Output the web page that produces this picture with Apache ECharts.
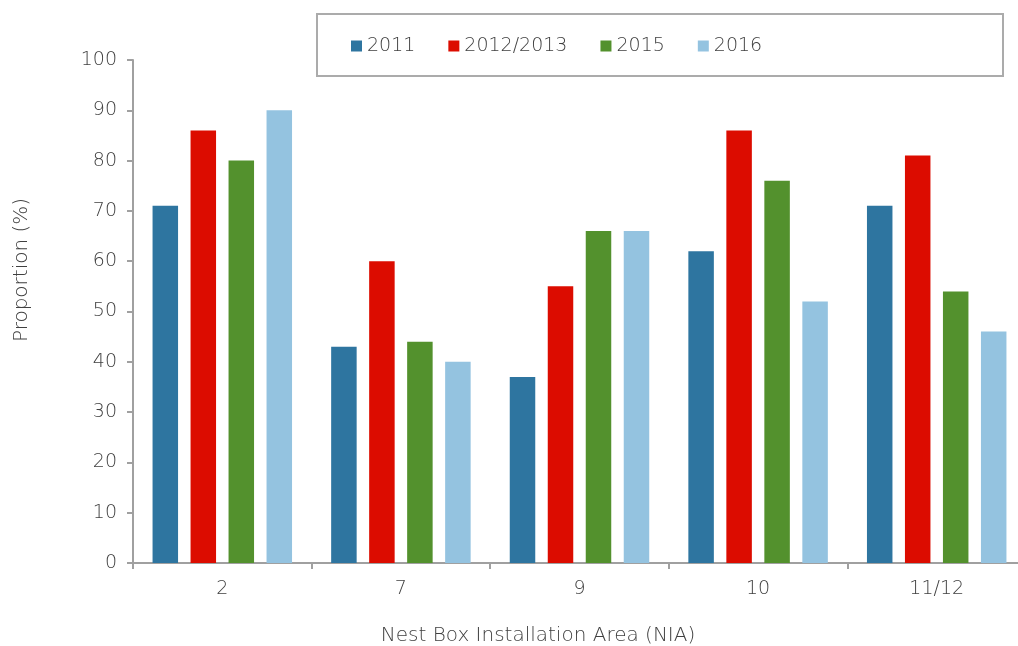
<!DOCTYPE html>
<html>
<head>
<meta charset="utf-8">
<script src="https://cdn.jsdelivr.net/npm/echarts@6/dist/echarts.min.js"></script>
<style>html,body{margin:0;padding:0;background:#fff;overflow:hidden;width:1018px;height:646px;}#c{width:1030px;height:646px;}</style>
</head>
<body>
<div id="c"></div>
<script>
var categories = ['2', '7', '9', '10', '11/12'];
var seriesNames = ['2011', '2012/2013', '2015', '2016'];
var s2011 = [71, 43, 37, 62, 71];
var s2012 = [86, 60, 55, 86, 81];
var s2015 = [80, 44, 66, 76, 54];
var s2016 = [90, 40, 66, 52, 46];
var colors = ['#2E75A0', '#DC0C00', '#53912D', '#94C3E0'];
var values = [s2011, s2012, s2015, s2016];

var FONT = 'DejaVu Sans';
var W = 200;
var TXT = '#404040';
var chart = echarts.init(document.getElementById('c'), null, {renderer: 'canvas'});
chart.setOption({
  animation: false,
  backgroundColor: '#fff',
  textStyle: {fontFamily: FONT, fontWeight: W},
  grid: {left: 133, top: 60, right: 4, bottom: 83, containLabel: false},
  graphic: [
    {type: 'rect', shape: {x: 317, y: 14, width: 686, height: 62}, style: {fill: 'none', stroke: '#ababab', lineWidth: 2}, z: 0},
    {type: 'text', x: 538, y: 636, style: {text: 'Nest Box Installation Area (NIA)', fontSize: 20, fontFamily: FONT, fontWeight: W, fill: TXT, align: 'center', verticalAlign: 'middle'}},
    {type: 'text', x: 22, y: 270, rotation: Math.PI / 2, style: {text: 'Proportion (%)', fontSize: 20, fontFamily: FONT, fontWeight: W, fill: TXT, align: 'center', verticalAlign: 'middle'}}
  ],
  legend: {
    left: 346, top: 30, itemWidth: 11, itemHeight: 11, itemGap: 33,
    icon: 'rect',
    textStyle: {fontSize: 19, color: TXT, fontFamily: FONT, fontWeight: W, lineHeight: 22},
    data: seriesNames
  },
  xAxis: {
    type: 'category', data: categories,
    axisLine: {lineStyle: {color: '#a0a0a0', width: 2}},
    axisTick: {show: true, length: 6, lineStyle: {color: '#a0a0a0', width: 2}},
    axisLabel: {fontSize: 19, color: TXT, margin: 17, fontFamily: FONT, fontWeight: W}
  },
  yAxis: {
    type: 'value', min: 0, max: 100, interval: 10,
    axisLine: {show: true, lineStyle: {color: '#a0a0a0', width: 2}},
    axisTick: {show: true, length: 6, lineStyle: {color: '#a0a0a0', width: 2}},
    splitLine: {show: false},
    axisLabel: {fontSize: 19, color: TXT, margin: 16, fontFamily: FONT, fontWeight: W}
  },
  series: seriesNames.map(function (n, i) {
    return {
      name: n, type: 'bar', data: values[i], barWidth: 25.5, barGap: '49%',
      itemStyle: {color: colors[i]}
    };
  })
});
</script>
</body>
</html>
